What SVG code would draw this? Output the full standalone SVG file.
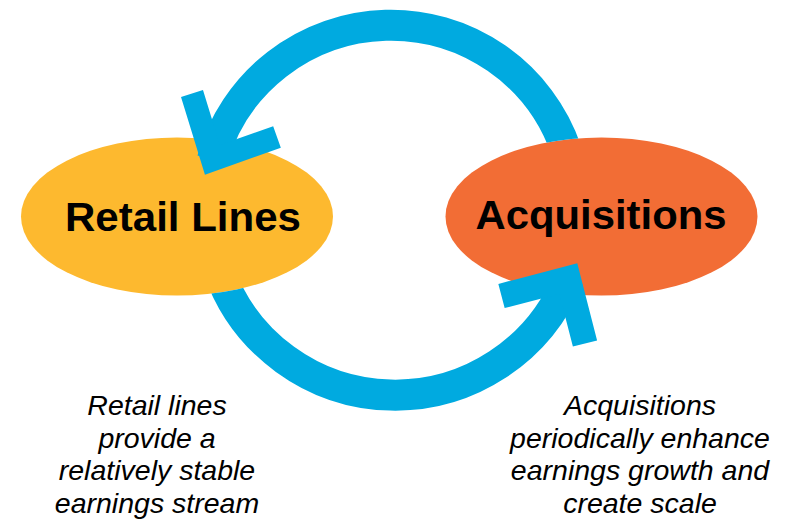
<svg xmlns="http://www.w3.org/2000/svg" width="785" height="525" viewBox="0 0 785 525">
  <style>
    .title { font-family: "Liberation Sans", Arial, sans-serif; font-weight: bold; font-size: 41px; fill: #000; text-anchor: middle; }
    .note { font-family: "Liberation Sans", Arial, sans-serif; font-style: italic; font-size: 28.5px; fill: #000; text-anchor: middle; }
    .loop { fill: none; stroke: #00AAE0; stroke-width: 31; stroke-linecap: butt; }
    .head { fill: none; stroke: #00AAE0; stroke-linecap: butt; stroke-linejoin: miter; stroke-miterlimit: 10; }
  </style>
  <defs>
    <!-- keep each loop's tail hidden behind the node it leaves -->
    <clipPath id="outside-acq">
      <path clip-rule="evenodd" d="M0 0H785V525H0Z M445.5 216.5 A156 79 0 1 0 757.5 216.5 A156 79 0 1 0 445.5 216.5Z"/>
    </clipPath>
    <clipPath id="outside-retail">
      <path clip-rule="evenodd" d="M0 0H785V525H0Z M21 216.5 A156 79 0 1 0 333 216.5 A156 79 0 1 0 21 216.5Z"/>
    </clipPath>
  </defs>

  <rect width="785" height="525" fill="#fff"/>

  <g id="retail-lines">
    <ellipse cx="177" cy="216.5" rx="156" ry="79" fill="#FDB92F"/>
    <text class="title" x="183" y="231" textLength="236" lengthAdjust="spacingAndGlyphs">Retail Lines</text>
    <text class="note" x="157" y="415">Retail lines</text>
    <text class="note" x="157" y="447.5">provide a</text>
    <text class="note" x="157" y="480">relatively stable</text>
    <text class="note" x="157" y="512.5">earnings stream</text>
  </g>

  <g id="acquisitions">
    <ellipse cx="601.5" cy="216.5" rx="156" ry="79" fill="#F26D35"/>
    <text class="title" x="601" y="229" textLength="251" lengthAdjust="spacingAndGlyphs">Acquisitions</text>
    <text class="note" x="640" y="415">Acquisitions</text>
    <text class="note" x="640" y="447.5">periodically enhance</text>
    <text class="note" x="640" y="480">earnings growth and</text>
    <text class="note" x="640" y="512.5">create scale</text>
  </g>

  <g id="connectors">
    <!-- upper loop: Acquisitions back to Retail Lines -->
    <path class="loop" clip-path="url(#outside-acq)" d="M566.1 150 A185.5 185.5 0 0 0 212.4 159.8"/>
    <polyline class="head" stroke-width="23" points="192,93.5 212.4,159.8 277,137"/>
    <!-- lower loop: Retail Lines on to Acquisitions -->
    <path class="loop" clip-path="url(#outside-retail)" d="M218.6 270 A187 187 0 0 0 568.3 278.6"/>
    <polyline class="head" stroke-width="25" points="501.5,296 568.3,278.6 585,343.5"/>
  </g>
</svg>
